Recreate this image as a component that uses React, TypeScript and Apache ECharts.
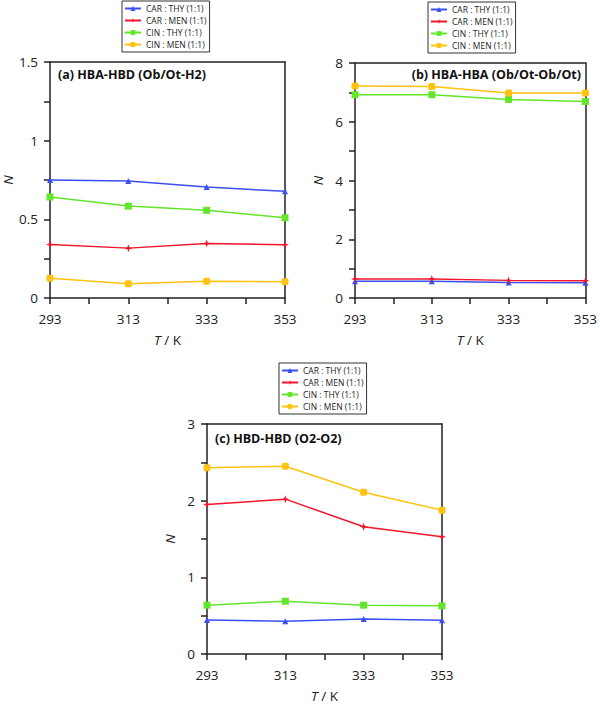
import React, { useEffect, useRef } from "react";
import * as echarts from "echarts";

const TEMPS = [293, 313, 333, 353];
const SERIES_NAMES = ["CAR : THY (1:1)", "CAR : MEN (1:1)", "CIN : THY (1:1)", "CIN : MEN (1:1)"];

// (a) HBA-HBD
const A_CAR_THY = [0.75, 0.744, 0.705, 0.678];
const A_CAR_MEN = [0.34, 0.317, 0.346, 0.338];
const A_CIN_THY = [0.642, 0.584, 0.557, 0.51];
const A_CIN_MEN = [0.125, 0.091, 0.106, 0.104];

// (b) HBA-HBA
const B_CAR_THY = [0.57, 0.57, 0.53, 0.52];
const B_CAR_MEN = [0.65, 0.65, 0.6, 0.59];
const B_CIN_THY = [6.92, 6.92, 6.76, 6.69];
const B_CIN_MEN = [7.22, 7.2, 6.98, 6.98];

// (c) HBD-HBD
const C_CAR_THY = [0.444, 0.427, 0.457, 0.44];
const C_CAR_MEN = [1.95, 2.02, 1.66, 1.53];
const C_CIN_THY = [0.637, 0.688, 0.637, 0.628];
const C_CIN_MEN = [2.43, 2.45, 2.11, 1.876];

const TITLES = ["(a) HBA-HBD (Ob/Ot-H2)", "(b) HBA-HBA (Ob/Ot-Ob/Ot)", "(c) HBD-HBD (O2-O2)"];
const Y_MAX = [1.5, 8, 3];
const Y_INTERVAL = [0.5, 2, 1];
const T0 = 293;

const COLORS = ["#3b4ef2", "#f2152b", "#62e62a", "#ffc20e"];
const STAR = "path://M0,-10 L2.5,-2.5 L10,0 L2.5,2.5 L0,10 L-2.5,2.5 L-10,0 L-2.5,-2.5 Z";
const SYMBOLS = ["triangle", STAR, "rect", "roundRect"];
const SYMBOL_SIZES = [6, 8, 7, 7];

const FONT = "'Open Sans', 'DejaVu Sans', sans-serif";

export default function App() {
  const ref = useRef<HTMLDivElement>(null);
  useEffect(() => {
    if (!ref.current) return;
    const chart = echarts.init(ref.current, undefined, { renderer: "svg" });
    const grids = [
      { left: 50, top: 62, width: 235, height: 236 },
      { left: 355, top: 63, width: 234, height: 235 },
      { left: 207, top: 424, width: 235, height: 234 },
    ];
    const legendPos = [
      { left: 122, top: 1 },
      { left: 428, top: 2 },
      { left: 279, top: 363 },
    ];
    const data = [
      [A_CAR_THY, A_CAR_MEN, A_CIN_THY, A_CIN_MEN],
      [B_CAR_THY, B_CAR_MEN, B_CIN_THY, B_CIN_MEN],
      [C_CAR_THY, C_CAR_MEN, C_CIN_THY, C_CIN_MEN],
    ];
    const axisLine = { show: true, onZero: false, lineStyle: { color: "#222", width: 1.5 } };
    const tickStyle = { color: "#222", width: 1.5 };
    const xAxes = grids.map((_, i) => ({
      type: "value",
      gridIndex: i,
      min: 0,
      max: 60,
      interval: 20,
      axisLine,
      axisTick: { show: true, inside: false, length: 6, lineStyle: tickStyle },
      minorTick: { show: true, splitNumber: 2, length: 6, lineStyle: tickStyle },
      splitLine: { show: false },
      axisLabel: {
        formatter: (v: number) => String(v + T0),
        fontSize: 13.5,
        color: "#222",
        margin: 14,
        fontFamily: FONT,
      },
      name: "{i|T} / K",
      nameLocation: "middle",
      nameGap: 35,
      nameTextStyle: {
        fontSize: 13.5,
        color: "#222",
        fontFamily: FONT,
        rich: { i: { fontStyle: "italic", fontSize: 13.5, color: "#222", fontFamily: FONT } },
      },
    }));
    const xTop = grids.map((_, i) => ({
      type: "value",
      gridIndex: i,
      position: "top",
      min: 0,
      max: 60,
      axisLine,
      axisTick: { show: false },
      axisLabel: { show: false },
      splitLine: { show: false },
    }));
    const yAxes = grids.map((_, i) => ({
      type: "value",
      gridIndex: i,
      min: 0,
      max: Y_MAX[i],
      interval: Y_INTERVAL[i],
      axisLine,
      axisTick: { show: true, inside: false, length: 6, lineStyle: tickStyle },
      minorTick: { show: true, splitNumber: 2, length: 6, lineStyle: tickStyle },
      splitLine: { show: false },
      axisLabel: { fontSize: 13.5, color: "#222", margin: 12, fontFamily: FONT },
      name: "N",
      nameLocation: "middle",
      nameGap: 30,
      nameTextStyle: { fontSize: 13.5, fontStyle: "italic", color: "#222", fontFamily: FONT },
    }));
    const yRight = grids.map((_, i) => ({
      type: "value",
      gridIndex: i,
      position: "right",
      min: 0,
      max: Y_MAX[i],
      axisLine,
      axisTick: { show: false },
      axisLabel: { show: false },
      splitLine: { show: false },
    }));
    const series: any[] = [];
    data.forEach((set, g) => {
      set.forEach((vals, k) => {
        series.push({
          type: "line",
          name: SERIES_NAMES[k],
          xAxisIndex: g,
          yAxisIndex: g,
          data: TEMPS.map((t, j) => [t - T0, vals[j]]),
          symbol: SYMBOLS[k],
          symbolSize: SYMBOL_SIZES[k],
          color: COLORS[k],
          lineStyle: { width: 1.5, color: COLORS[k] },
          itemStyle: { color: COLORS[k] },
          z: 3 + k,
        });
      });
    });
    const titles = [
      { left: 58, top: 68, text: TITLES[0] },
      { right: 19, top: 68, text: TITLES[1] },
      { left: 215, top: 432, text: TITLES[2] },
    ].map((t) => ({
      ...t,
      padding: 0,
      textStyle: { fontSize: 12.5, fontWeight: "bold", color: "#111", fontFamily: FONT },
    }));
    const legends = legendPos.map((p) => ({
      ...p,
      orient: "vertical",
      data: SERIES_NAMES,
      itemWidth: 16,
      itemHeight: 6,
      itemGap: 3,
      itemTextGap: 2,
      padding: [3, 3, 3, 2],
      borderColor: "#333",
      borderWidth: 1,
      textStyle: { fontSize: 8.5, color: "#222", fontFamily: FONT },
      selectedMode: false,
    }));
    chart.setOption({
      animation: false,
      backgroundColor: "#fff",
      title: titles,
      legend: legends,
      grid: grids,
      xAxis: [...xAxes, ...xTop],
      yAxis: [...yAxes, ...yRight],
      series,
    });
    return () => chart.dispose();
  }, []);
  return (
    <div
      ref={ref}
      style={{ position: "absolute", left: 0, top: 0, width: 600, height: 704 }}
    />
  );
}
